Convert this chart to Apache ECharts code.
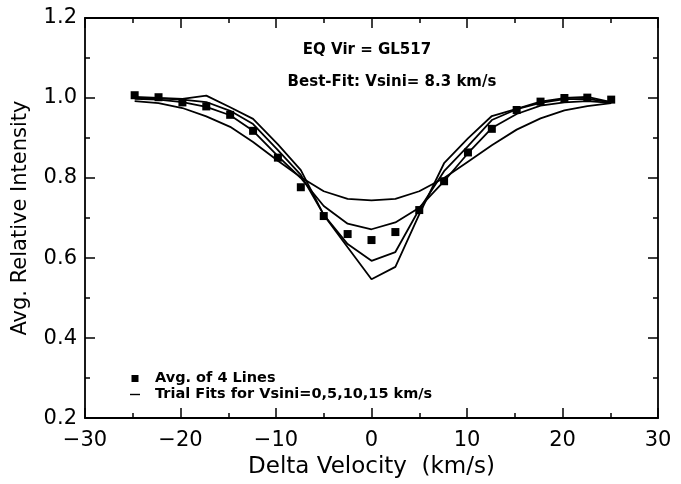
<!DOCTYPE html>
<html>
<head>
<meta charset="utf-8">
<script src="https://cdn.jsdelivr.net/npm/echarts@6/dist/echarts.min.js"></script>
<style>
html,body{margin:0;padding:0;background:#fff;}
#chart{width:681px;height:484px;}
</style>
</head>
<body>
<div id="chart"></div>
<script>
const velocities = [-24.8, -22.3, -19.8, -17.3, -14.8, -12.4, -9.8, -7.4, -5.0, -2.5, 0.0, 2.5, 5.0, 7.6, 10.1, 12.6, 15.2, 17.7, 20.2, 22.6, 25.1];
const avgIntensity = [1.007, 1.002, 0.989, 0.979, 0.958, 0.918, 0.851, 0.777, 0.705, 0.660, 0.645, 0.665, 0.720, 0.792, 0.864, 0.923, 0.970, 0.991, 1.000, 1.001, 0.996];
const fitVsini0 = [1.003, 1.000, 0.998, 1.006, 0.977, 0.948, 0.884, 0.820, 0.708, 0.627, 0.547, 0.578, 0.709, 0.837, 0.899, 0.955, 0.973, 0.991, 1.000, 1.003, 0.990];
const fitVsini5 = [1.000, 0.999, 0.996, 0.990, 0.968, 0.935, 0.870, 0.808, 0.708, 0.635, 0.593, 0.615, 0.722, 0.817, 0.880, 0.945, 0.972, 0.988, 0.997, 0.998, 0.989];
const fitVsini10 = [0.998, 0.996, 0.990, 0.978, 0.957, 0.918, 0.855, 0.800, 0.730, 0.686, 0.672, 0.689, 0.726, 0.792, 0.862, 0.925, 0.960, 0.981, 0.989, 0.992, 0.988];
const fitVsini15 = [0.992, 0.987, 0.975, 0.954, 0.928, 0.890, 0.843, 0.802, 0.767, 0.748, 0.744, 0.748, 0.767, 0.800, 0.841, 0.882, 0.921, 0.949, 0.969, 0.980, 0.987];
const fits = [fitVsini0, fitVsini5, fitVsini10, fitVsini15];
const pointsName = 'Avg. of 4 Lines';
const fitsName = 'Trial Fits for Vsini=0,5,10,15 km/s';
const titleLine1 = 'EQ Vir = GL517';
const titleLine2 = 'Best-Fit: Vsini= 8.3 km/s';
const xTitle = 'Delta Velocity  (km/s)';
const yTitle = 'Avg. Relative Intensity';

const FONT = 'DejaVu Sans';
const pairs = a => velocities.map((v, i) => [v, a[i]]);

const axisCommon = {
  axisLine: {show: true, onZero: false, lineStyle: {color: '#000', width: 1.8}},
  axisTick: {show: true, inside: true, length: 10, lineStyle: {color: '#000', width: 1.5}},
  minorTick: {show: true, splitNumber: 2, length: 5, lineStyle: {color: '#000', width: 1.5}},
  splitLine: {show: false}
};

const chart = echarts.init(document.getElementById('chart'), null, {renderer: 'canvas'});
chart.setOption({
  backgroundColor: '#fff',
  animation: false,
  graphic: [
    {type: 'text', x: 367, y: 50, style: {text: titleLine1, fontFamily: FONT, fontSize: 15, fontWeight: 'bold', fill: '#000', align: 'center', verticalAlign: 'middle'}},
    {type: 'text', x: 392, y: 82, style: {text: titleLine2, fontFamily: FONT, fontSize: 15, fontWeight: 'bold', fill: '#000', align: 'center', verticalAlign: 'middle'}}
  ],
  legend: {
    orient: 'vertical',
    left: 125,
    top: 366,
    itemGap: 1,
    itemWidth: 10,
    itemHeight: 7,
    selectedMode: false,
    textStyle: {fontFamily: FONT, fontSize: 14.5, fontWeight: 'bold', color: '#000', padding: [0, 0, 0, 10]},
    data: [
      {name: pointsName, icon: 'path://M0,0H1V1H0Z'},
      {name: fitsName, icon: 'path://M0,0H10V1.4H0Z'}
    ]
  },
  grid: {left: 85, right: 23, top: 18, bottom: 60, containLabel: false},
  xAxis: [
    Object.assign({
      type: 'value', min: -30, max: 30, interval: 10,
      name: xTitle, nameLocation: 'middle', nameGap: 36,
      nameTextStyle: {fontFamily: FONT, fontSize: 23, color: '#000'},
      axisLabel: {fontFamily: FONT, fontSize: 21, color: '#000', margin: 12,
        formatter: v => v < 0 ? '\u2212' + Math.abs(v) : String(v)}
    }, axisCommon),
    Object.assign({
      type: 'value', min: -30, max: 30, interval: 10, position: 'top',
      axisLabel: {show: false}
    }, axisCommon)
  ],
  yAxis: [
    Object.assign({
      type: 'value', min: 0.2, max: 1.2, interval: 0.2,
      name: yTitle, nameLocation: 'middle', nameGap: 54, nameRotate: 90,
      nameTextStyle: {fontFamily: FONT, fontSize: 21, color: '#000'},
      axisLabel: {fontFamily: FONT, fontSize: 21, color: '#000', margin: 8,
        formatter: v => v.toFixed(1)}
    }, axisCommon),
    Object.assign({
      type: 'value', min: 0.2, max: 1.2, interval: 0.2, position: 'right',
      axisLabel: {show: false}
    }, axisCommon)
  ],
  series: [
    {
      name: pointsName, type: 'scatter', symbol: 'rect', symbolSize: 8,
      itemStyle: {color: '#000', opacity: 1}, data: pairs(avgIntensity), z: 5
    }
  ].concat(fits.map(f => ({
    name: fitsName, type: 'line', showSymbol: false, symbol: 'none',
    lineStyle: {color: '#000', width: 1.8}, itemStyle: {color: '#000'},
    data: pairs(f)
  })))
});
</script>
</body>
</html>
